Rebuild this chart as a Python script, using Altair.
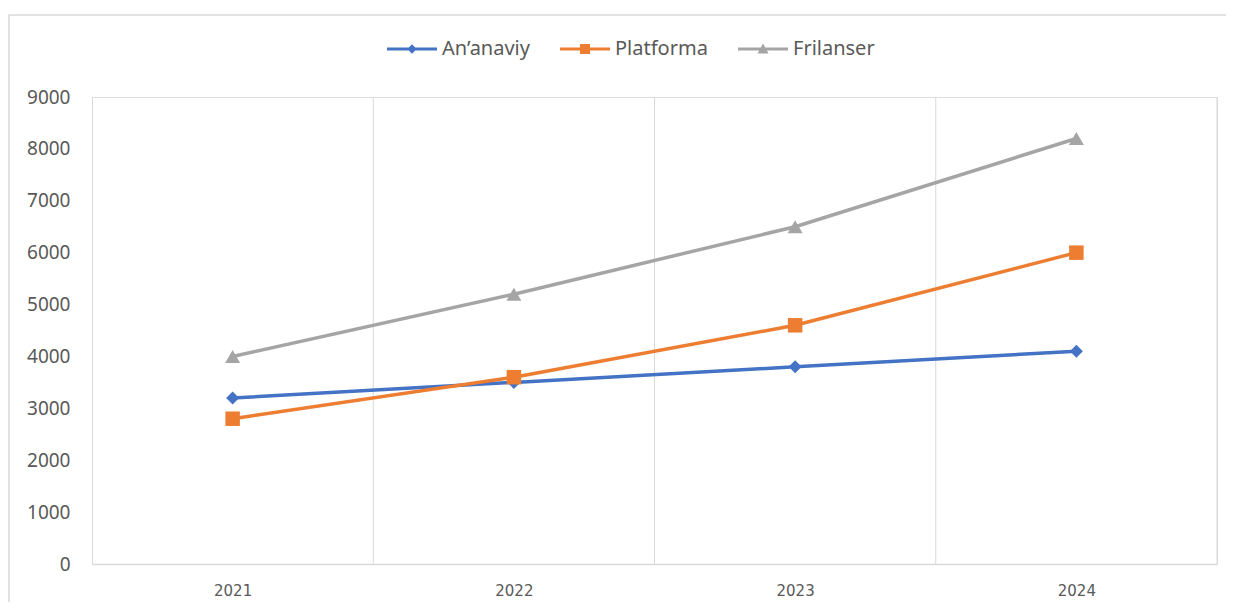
import altair as alt
import pandas as pd

years = [2021, 2022, 2023, 2024]
series_names = ["An\u2019anaviy", "Platforma", "Frilanser"]
ananaviy = [3200, 3500, 3800, 4100]
platforma = [2800, 3600, 4600, 6000]
frilanser = [4000, 5200, 6500, 8200]
colors = ["#4472C4", "#ED7D31", "#A5A5A5"]
marker_shapes = ["diamond", "square", "triangle-up"]
y_ticks = [0, 1000, 2000, 3000, 4000, 5000, 6000, 7000, 8000, 9000]
boundaries = [2021.5, 2022.5, 2023.5, 2024.5]

rows = []
for name, vals in zip(series_names, [ananaviy, platforma, frilanser]):
    for yr, v in zip(years, vals):
        rows.append({"year": yr, "value": v, "series": name})
df = pd.DataFrame(rows)
grid_df = pd.DataFrame({"b": boundaries})

FONT = "Noto Sans"
x_scale = alt.Scale(domain=[2020.5, 2024.5], nice=False, zero=False)
y_scale = alt.Scale(domain=[0, 9000], nice=False)
color_scale = alt.Scale(domain=series_names, range=colors)

x_axis = alt.Axis(
    values=years, format="d", grid=False, ticks=False, title=None,
    labelFont="DejaVu Sans", labelFontSize=15, labelColor="#595959",
    labelPadding=19, domainColor="#d9d9d9", domainWidth=1.5,
)
y_axis = alt.Axis(
    values=y_ticks, format="d", grid=False, ticks=False, title=None,
    labelFont=FONT, labelFontSize=19, labelColor="#595959",
    labelPadding=22, domainColor="#d9d9d9", domainWidth=1,
)

# legend symbols: short line with marker in the middle
bar = "M-1,-0.06L1,-0.06L1,0.06L-1,0.06Z"
legend_paths = [
    bar + "M0,-0.19L0.19,0L0,0.19L-0.19,0Z",
    bar + "M-0.2,-0.2L0.2,-0.2L0.2,0.2L-0.2,0.2Z",
    bar + "M0,-0.22L0.22,0.18L-0.22,0.18Z",
]

base = alt.Chart(df)

grid = alt.Chart(grid_df).mark_rule(color="#d9d9d9", strokeWidth=1).encode(
    x=alt.X("b:Q", scale=x_scale, axis=x_axis)
)

sizes = [169, 210, 225]
layers = []
for name, col in zip(series_names, colors):
    sub = base.transform_filter(alt.datum.series == name)
    layers.append(
        sub.mark_line(strokeWidth=3.5, color=col).encode(
            x=alt.X("year:Q", scale=x_scale, axis=x_axis),
            y=alt.Y("value:Q", scale=y_scale, axis=y_axis),
        )
    )
for name, col, shp, sz in zip(series_names, colors, marker_shapes, sizes):
    sub = base.transform_filter(alt.datum.series == name)
    layers.append(
        sub.mark_point(shape=shp, filled=True, size=sz, opacity=1, color=col).encode(
            x=alt.X("year:Q", scale=x_scale, axis=x_axis),
            y=alt.Y("value:Q", scale=y_scale, axis=y_axis),
        )
    )

leg = alt.Legend(
    orient="none", legendX=295, legendY=-73, direction="horizontal",
    title=None, labelFont=FONT, labelFontSize=20, labelColor="#595959",
    symbolSize=2500, symbolOpacity=1, symbolStrokeWidth=0,
    labelOffset=5, columnPadding=30, labelLimit=300,
)
legend_layer = (
    base.transform_filter("datum.value < 0")
    .mark_point(filled=True, opacity=1)
    .encode(
        x=alt.X("year:Q", scale=x_scale, axis=x_axis),
        y=alt.Y("value:Q", scale=y_scale, axis=y_axis),
        color=alt.Color("series:N", scale=color_scale, legend=leg),
        shape=alt.Shape(
            "series:N",
            scale=alt.Scale(domain=series_names, range=legend_paths),
            legend=leg,
        ),
    )
)

frame = alt.Chart(pd.DataFrame({"k": [0]})).mark_rect(
    fill=None, stroke="#d9d9d9", strokeWidth=1.5
).encode(
    x=alt.value(-83), x2=alt.value(1160), y=alt.value(-82), y2=alt.value(560)
)

chart = alt.layer(grid, *layers, legend_layer, frame).properties(
    width=1125,
    height=467,
    autosize=alt.AutoSizeParams(type="none"),
    padding={"left": 84, "top": 89, "right": 9, "bottom": 38},
).configure_view(stroke=None).configure(background="white")

chart.save("out.html", embed_options={"renderer": "svg", "actions": False})
